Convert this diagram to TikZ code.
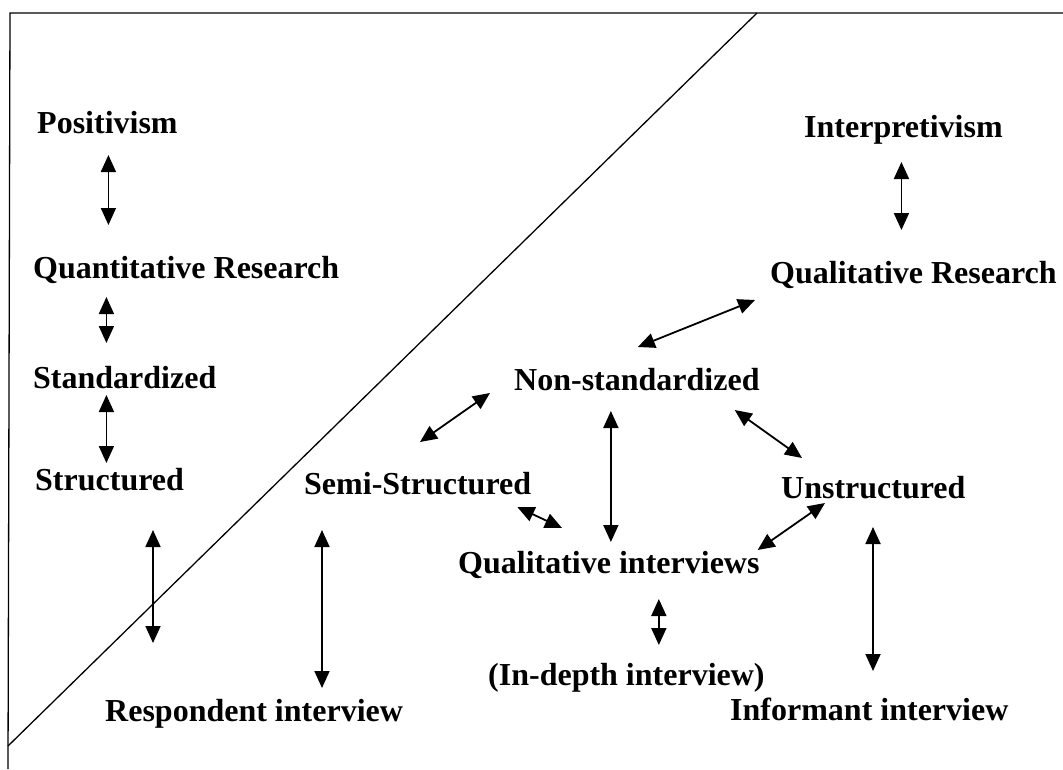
\documentclass[tikz,border=0pt]{standalone}
\usepackage{fontspec}
\setmainfont{Liberation Serif}
\usetikzlibrary{arrows.meta}

\tikzset{
  lbl/.style={anchor=base west, inner sep=0pt, font=\bfseries\fontsize{32}{36}\selectfont},
  dbl/.style={{Triangle[length=17pt,width=15pt]}-{Triangle[length=17pt,width=15pt]}, line width=1.8pt},
  rule/.style={line width=1.3pt}
}

\begin{document}
\begin{tikzpicture}[x=1pt,y=-1pt]
  \useasboundingbox (0,0) rectangle (1063,769);

  % Frame and dividing line
  \draw[rule] (1063,13) -- (10,13) -- (8,769);
  \draw[rule] (8,746) -- (757,13);

  % Labels
  \foreach \pos/\name/\txt in {{(37,133)/posit/Positivism}, {(33,278)/quant/Quantitative Research},
      {(33,388)/std/Standardized}, {(35,490)/struct/Structured},
      {(804,137)/interp/Interpretivism}, {(770,283)/qualr/Qualitative Research},
      {(514,390)/nonstd/Non-standardized}, {(304,494)/semi/Semi-Structured},
      {(781,498)/unstr/Unstructured}, {(458,573)/qint/Qualitative interviews},
      {(488,685)/indepth/(In-depth interview)}, {(105,721)/resp/Respondent interview},
      {(730,720)/inform/Informant interview}} {
    \node[lbl] (\name) at \pos {\txt};
  }
  \coordinate (strend) at (153,643);

  % Left column
  \draw[dbl] ([shift={(1,22)}]posit.base) -- ([shift={(1,-53)}]posit.base |- quant.base);
  \draw[dbl] ([shift={(-1,19)}]posit.base |- quant.base) -- ([shift={(-1,-45)}]posit.base |- std.base);
  \draw[dbl] ([shift={(-1,7)}]posit.base |- std.base) -- ([shift={(-1,-27)}]posit.base |- struct.base);
  \draw[dbl] ([shift={(118,40)}]struct.base west) -- (strend);
  \draw[dbl] ([shift={(18,36)}]semi.base west) -- ([shift={(18,-33)}]semi.base west |- resp.base);

  % Right side
  \draw[dbl] ([shift={(-2,25)}]interp.base) -- ([shift={(-2,-53)}]interp.base |- qualr.base);
  \draw[dbl] ([shift={(-15,17)}]qualr.base west) -- ([shift={(1,-43)}]nonstd.base);
  \draw[dbl] ([shift={(-24,3)}]nonstd.base west) -- ([shift={(116,-52)}]semi.base west);
  \draw[dbl] ([shift={(-26,21)}]nonstd.base) -- ([shift={(-26,-31)}]nonstd.base |- qint.base);
  \draw[dbl] ([shift={(-25,20)}]nonstd.base east) -- ([shift={(21,-40)}]unstr.base west);
  \draw[dbl] ([shift={(-14,13)}]semi.base east) -- ([shift={(104,-45)}]qint.base west);
  \draw[dbl] ([shift={(44,5)}]unstr.base west) -- ([shift={(-2,-23)}]qint.base east);
  \draw[dbl] ([shift={(50,26)}]qint.base) -- ([shift={(50,-40)}]qint.base |- indepth.base);
  \draw[dbl] ([shift={(92,29)}]unstr.base west) -- ([shift={(143,-49)}]inform.base west);
\end{tikzpicture}
\end{document}
